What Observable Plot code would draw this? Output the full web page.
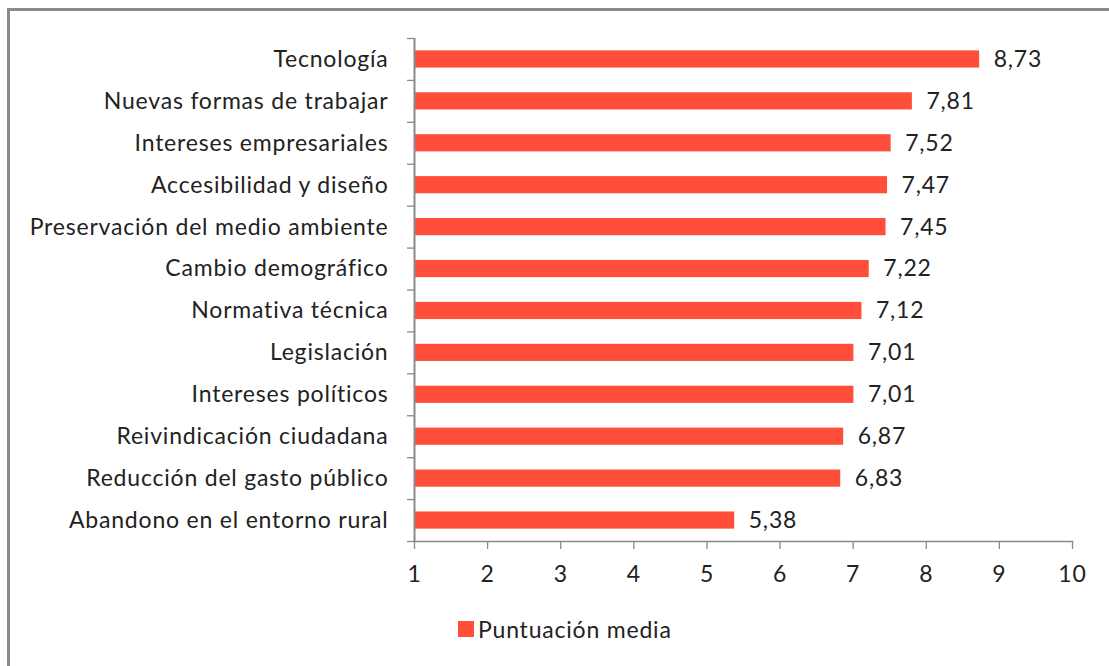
<!DOCTYPE html>
<html>
<head>
<meta charset="utf-8">
<script src="https://cdn.jsdelivr.net/npm/d3@7"></script>
<script src="https://cdn.jsdelivr.net/npm/@observablehq/plot@0.6"></script>
<style>
  html, body { margin: 0; padding: 0; background: #fff; overflow: hidden; }
  #wrap { position: relative; width: 1109px; height: 666px; overflow: hidden; font-family: Lato, sans-serif; }
  #frame { position: absolute; left: 7px; top: 8px; width: 1300px; height: 900px; border-top: 3px solid #8a8a8a; border-left: 3px solid #8a8a8a; box-sizing: border-box; }
  #chart { position: absolute; left: 0; top: 0; }
  #chart svg text { letter-spacing: 0.8px; }
  #legend { position: absolute; left: 458px; top: 615px; display: flex; align-items: center; font-size: 23px; letter-spacing: 0.8px; color: #222; }
  #legend .sw { width: 16px; height: 16px; margin-right: 4px; }
</style>
</head>
<body>
<div id="wrap">
  <div id="frame"></div>
  <div id="chart"></div>
  <div id="legend"></div>
</div>
<script>
const categories = [
  "Tecnología",
  "Nuevas formas de trabajar",
  "Intereses empresariales",
  "Accesibilidad y diseño",
  "Preservación del medio ambiente",
  "Cambio demográfico",
  "Normativa técnica",
  "Legislación",
  "Intereses políticos",
  "Reivindicación ciudadana",
  "Reducción del gasto público",
  "Abandono en el entorno rural"
];
const values = [8.73, 7.81, 7.52, 7.47, 7.45, 7.22, 7.12, 7.01, 7.01, 6.87, 6.83, 5.38];
const xTicks = [1, 2, 3, 4, 5, 6, 7, 8, 9, 10];
const seriesName = "Puntuación media";
const barColor = "#FF4F3B";

const data = categories.map((c, i) => ({name: c, value: values[i]}));

const W = 1109, H = 600;
const mTop = 38, mBottom = 59, mLeft = 414, mRight = 37;
const step = (H - mTop - mBottom) / categories.length;
const fmt = v => v.toFixed(2).replace(".", ",");

const chart = Plot.plot({
  width: W,
  height: H,
  marginTop: mTop,
  marginBottom: mBottom,
  marginLeft: mLeft,
  marginRight: mRight,
  style: {fontFamily: "Lato, sans-serif", fontSize: "23px", color: "#222", background: "transparent", overflow: "visible"},
  x: {domain: [1, 10], label: null},
  y: {domain: categories, paddingInner: 0.59, paddingOuter: 0.295, round: false, label: null},
  marks: [
    Plot.barX(data, {x1: () => 1, x2: "value", y: "name", fill: barColor}),
    Plot.text(data, {x: "value", y: "name", text: d => fmt(d.value), textAnchor: "start", dx: 14, fill: "#222"}),
    Plot.frame({anchor: "bottom", stroke: "#8a8a8a", strokeWidth: 1.5}),
    Plot.ruleX([1], {stroke: "#8a8a8a", strokeWidth: 2}),
    Plot.axisX(xTicks, {tickSize: 8, tickPadding: 16, stroke: "#8a8a8a", fill: "#222", strokeWidth: 1.3, label: null}),
    Plot.axisY({tickSize: 0, tickPadding: 26, fill: "#222", label: null}),
    Plot.axisY({tickSize: 7, dy: step / 2, tickFormat: () => "", stroke: "#8a8a8a", strokeWidth: 1.3, label: null}),
    Plot.axisY([categories[0]], {tickSize: 7, dy: -step / 2, tickFormat: () => "", stroke: "#8a8a8a", strokeWidth: 1.3, label: null})
  ]
});
document.getElementById("chart").appendChild(chart);

const leg = document.getElementById("legend");
const sw = document.createElement("span");
sw.className = "sw";
sw.style.background = barColor;
leg.appendChild(sw);
const lt = document.createElement("span");
lt.textContent = seriesName;
leg.appendChild(lt);
</script>
</body>
</html>
